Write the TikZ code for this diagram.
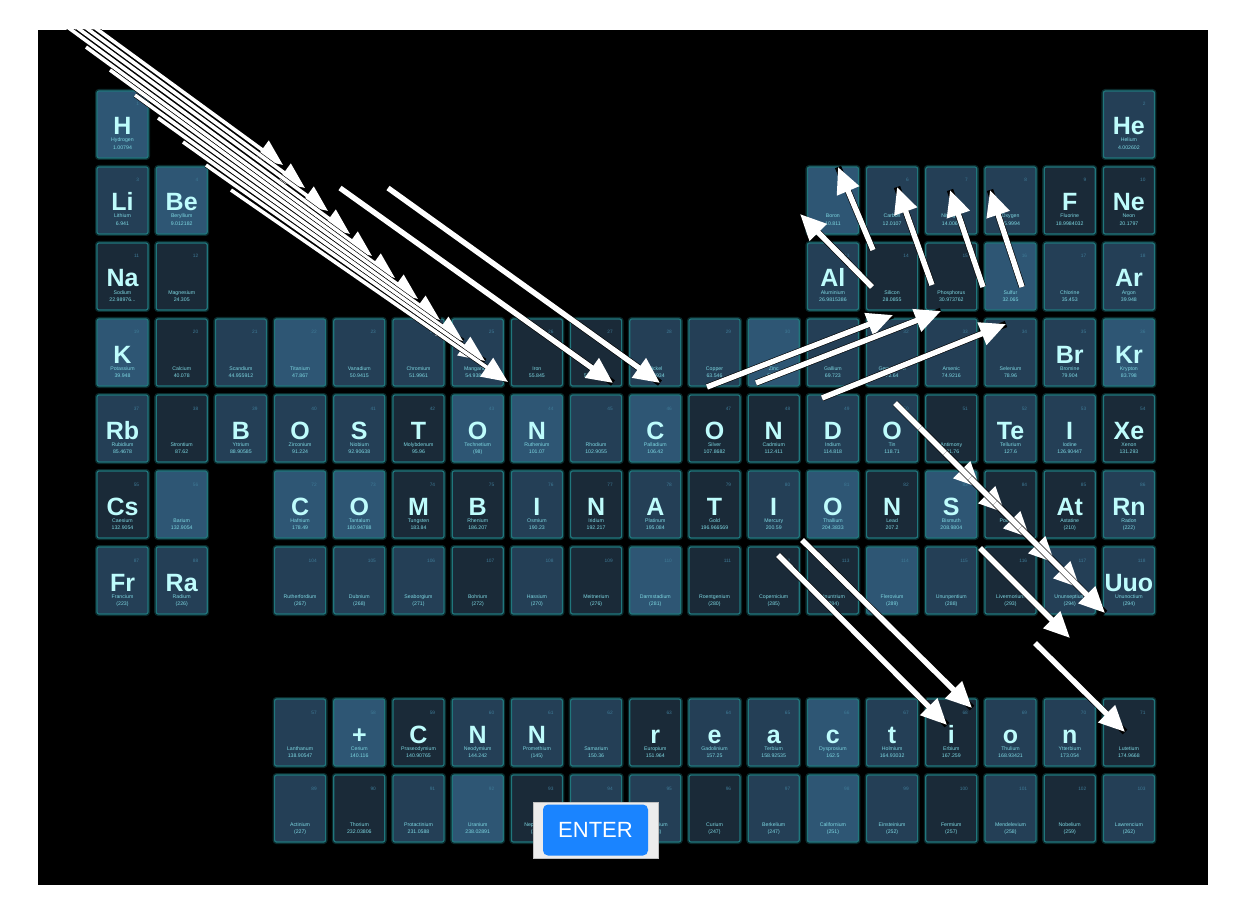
\documentclass[tikz,border=0pt]{standalone}
\usepackage{fontspec}
\setmainfont{Liberation Sans}
\usetikzlibrary{arrows.meta}

\definecolor{tileA}{RGB}{46,86,116}
\definecolor{tileB}{RGB}{36,63,86}
\definecolor{tileC}{RGB}{26,42,56}
\definecolor{tileglow}{RGB}{32,118,124}
\definecolor{symcol}{RGB}{190,252,252}
\definecolor{txtcol}{RGB}{125,215,225}
\definecolor{numcol}{RGB}{62,122,150}
\definecolor{btnblue}{RGB}{26,132,255}
\definecolor{btngray}{RGB}{236,236,236}

% one element tile: col, row, shade, number, symbol, name, mass
\newcommand{\elem}[7]{%
  \pgfmathsetmacro{\cx}{122.5+(#1-1)*59.2}%
  \pgfmathsetmacro{\cy}{124.5+(#2-1)*76}%
  \node[tile, fill=#3] (el#4) at (\cx,\cy) {};
  \node[elnum] at (\cx+17,\cy-18.5) {#4};
  \node[elsym] at (\cx,\cy+10.5) {#5};
  \node[eltext] at (\cx,\cy+17.5) {#6};
  \node[eltext] at (\cx,\cy+25) {#7};
}

\begin{document}
\begin{tikzpicture}[
    x=0.5pt, y=-0.5pt,
    tile/.style={draw=tileglow, line width=0.6pt, rounded corners=1pt,
      minimum width=25.5pt, minimum height=33.5pt, inner sep=0pt,
      preaction={draw=tileglow, opacity=0.35, line width=2pt}},
    elnum/.style={anchor=base east, inner sep=0pt, text=numcol, font=\fontsize{2.4}{3}\selectfont},
    elsym/.style={anchor=base, inner sep=0pt, text=symcol, font=\fontsize{12.5}{14}\selectfont\bfseries},
    eltext/.style={anchor=base, inner sep=0pt, text=txtcol, font=\fontsize{2.6}{3}\selectfont},
    arrow/.style={white, line width=2.7pt, -{Triangle[length=13pt, width=11.5pt]},
      preaction={draw=black, line width=3.3pt, -}},
    bundle/.style={white, line width=1.8pt, -{Triangle[length=13pt, width=11pt]},
      preaction={draw=black, line width=2.4pt, -}},
    btnframe/.style={draw=black!25, fill=btngray, minimum width=62.5pt, minimum height=28pt},
    btn/.style={fill=btnblue, rounded corners=2.5pt, minimum width=52.5pt, minimum height=25.5pt,
      text=white, font=\fontsize{11}{13}\selectfont}
]
\useasboundingbox (0,0) rectangle (1240,914);
\fill[white] (0,0) rectangle (1240,914);
\fill[black] (38,30) rectangle (1208,885);

% main table
\foreach \c/\sh/\n/\sy/\nm/\ms in {1/tileA/1/H/Hydrogen/1.00794, 18/tileB/2/He/Helium/4.002602}
  {\elem{\c}{1}{\sh}{\n}{\sy}{\nm}{\ms}}
\foreach \c/\sh/\n/\sy/\nm/\ms in {1/tileB/3/Li/Lithium/6.941, 2/tileA/4/Be/Beryllium/9.012182,
    13/tileA/5/{}/Boron/10.811, 14/tileB/6/{}/Carbon/12.0107, 15/tileB/7/{}/Nitrogen/14.0067,
    16/tileB/8/{}/Oxygen/15.9994, 17/tileC/9/F/Fluorine/18.9984032, 18/tileC/10/Ne/Neon/20.1797}
  {\elem{\c}{2}{\sh}{\n}{\sy}{\nm}{\ms}}
\elem{1}{3}{tileC}{11}{Na}{Sodium}{22.98976...}
\foreach \c/\sh/\n/\sy/\nm/\ms in {2/tileC/12/{}/Magnesium/24.305,
    13/tileB/13/Al/Aluminium/26.9815386, 14/tileC/14/{}/Silicon/28.0855, 15/tileC/15/{}/Phosphorus/30.973762,
    16/tileA/16/{}/Sulfur/32.065, 17/tileB/17/{}/Chlorine/35.453, 18/tileB/18/Ar/Argon/39.948}
  {\elem{\c}{3}{\sh}{\n}{\sy}{\nm}{\ms}}
\foreach \c/\sh/\n/\sy/\nm/\ms in {1/tileA/19/K/Potassium/39.948, 2/tileC/20/{}/Calcium/40.078,
    3/tileB/21/{}/Scandium/44.955912, 4/tileA/22/{}/Titanium/47.867, 5/tileB/23/{}/Vanadium/50.9415,
    6/tileB/24/{}/Chromium/51.9961, 7/tileB/25/{}/Manganese/54.938045, 8/tileC/26/{}/Iron/55.845,
    9/tileC/27/{}/Cobalt/58.933195, 10/tileB/28/{}/Nickel/58.6934, 11/tileB/29/{}/Copper/63.546,
    12/tileA/30/{}/Zinc/65.38, 13/tileB/31/{}/Gallium/69.723, 14/tileB/32/{}/Germanium/72.64,
    15/tileB/33/{}/Arsenic/74.9216, 16/tileB/34/{}/Selenium/78.96, 17/tileB/35/Br/Bromine/79.904,
    18/tileA/36/Kr/Krypton/83.798}
  {\elem{\c}{4}{\sh}{\n}{\sy}{\nm}{\ms}}
\foreach \c/\sh/\n/\sy/\nm/\ms in {1/tileB/37/Rb/Rubidium/85.4678, 2/tileC/38/{}/Strontium/87.62,
    3/tileB/39/B/Yttrium/88.90585, 4/tileB/40/O/Zirconium/91.224, 5/tileB/41/S/Niobium/92.90638,
    6/tileC/42/T/Molybdenum/95.96, 7/tileA/43/O/Technetium/(98), 8/tileA/44/N/Ruthenium/101.07,
    9/tileB/45/{}/Rhodium/102.9055, 10/tileA/46/C/Palladium/106.42, 11/tileC/47/O/Silver/107.8682,
    12/tileC/48/N/Cadmium/112.411, 13/tileB/49/D/Indium/114.818, 14/tileB/50/O/Tin/118.71,
    15/tileC/51/{}/Antimony/121.76, 16/tileB/52/Te/Tellurium/127.6, 17/tileB/53/I/Iodine/126.90447,
    18/tileC/54/Xe/Xenon/131.293}
  {\elem{\c}{5}{\sh}{\n}{\sy}{\nm}{\ms}}
\foreach \c/\sh/\n/\sy/\nm/\ms in {1/tileC/55/Cs/Caesium/132.9054, 2/tileA/56/{}/Barium/132.9054,
    4/tileA/72/C/Hafnium/178.49, 5/tileA/73/O/Tantalum/180.94788, 6/tileC/74/M/Tungsten/183.84,
    7/tileC/75/B/Rhenium/186.207, 8/tileB/76/I/Osmium/190.23, 9/tileC/77/N/Iridium/192.217,
    10/tileB/78/A/Platinum/195.084, 11/tileC/79/T/Gold/196.966569, 12/tileB/80/I/Mercury/200.59,
    13/tileA/81/O/Thallium/204.3833, 14/tileC/82/N/Lead/207.2, 15/tileA/83/S/Bismuth/208.9804,
    16/tileC/84/{}/Polonium/(209), 17/tileC/85/At/Astatine/(210), 18/tileB/86/Rn/Radon/(222)}
  {\elem{\c}{6}{\sh}{\n}{\sy}{\nm}{\ms}}
\foreach \c/\sh/\n/\sy/\nm/\ms in {1/tileB/87/Fr/Francium/(223), 2/tileB/88/Ra/Radium/(226),
    4/tileB/104/{}/Rutherfordium/(267), 5/tileB/105/{}/Dubnium/(268), 6/tileB/106/{}/Seaborgium/(271),
    7/tileC/107/{}/Bohrium/(272), 8/tileB/108/{}/Hassium/(270), 9/tileC/109/{}/Meitnerium/(276),
    10/tileA/110/{}/Darmstadium/(281), 11/tileC/111/{}/Roentgenium/(280), 12/tileC/112/{}/Copernicium/(285),
    13/tileC/113/{}/Ununtrium/(284), 14/tileA/114/{}/Flerovium/(289), 15/tileB/115/{}/Ununpentium/(288),
    16/tileC/116/{}/Livermorium/(293), 17/tileB/117/{}/Ununseptium/(294), 18/tileB/118/Uuo/Ununoctium/(294)}
  {\elem{\c}{7}{\sh}{\n}{\sy}{\nm}{\ms}}

% lanthanides and actinides
\foreach \c/\sh/\n/\sy/\nm/\ms in {4/tileB/57/{}/Lanthanum/138.90547, 5/tileA/58/+/Cerium/140.116,
    6/tileC/59/C/Praseodymium/140.90765, 7/tileB/60/N/Neodymium/144.242, 8/tileB/61/N/Promethium/(145),
    9/tileB/62/{}/Samarium/150.36, 10/tileC/63/r/Europium/151.964, 11/tileB/64/e/Gadolinium/157.25,
    12/tileB/65/a/Terbium/158.92535, 13/tileA/66/c/Dysprosium/162.5, 14/tileB/67/t/Holmium/164.93032,
    15/tileC/68/i/Erbium/167.259, 16/tileB/69/o/Thulium/168.93421, 17/tileB/70/n/Ytterbium/173.054,
    18/tileC/71/{}/Lutetium/174.9668}
  {\elem{\c}{9}{\sh}{\n}{\sy}{\nm}{\ms}}
\foreach \c/\sh/\n/\nm/\ms in {4/tileB/89/Actinium/(227), 5/tileC/90/Thorium/232.03806,
    6/tileB/91/Protactinium/231.0588, 7/tileA/92/Uranium/238.02891, 8/tileC/93/Neptunium/(237),
    9/tileB/94/Plutonium/(244), 10/tileB/95/Americium/(243), 11/tileC/96/Curium/(247),
    12/tileB/97/Berkelium/(247), 13/tileA/98/Californium/(251), 14/tileB/99/Einsteinium/(252),
    15/tileC/100/Fermium/(257), 16/tileB/101/Mendelevium/(258), 17/tileC/102/Nobelium/(259),
    18/tileB/103/Lawrencium/(262)}
  {\elem{\c}{10}{\sh}{\n}{}{\nm}{\ms}}

% arrows
\begin{scope}
\clip (38,30) rectangle (1208,885);
\foreach \sx/\sy/\ex/\ey [count=\i] in {-10/-49/283/165, 14/-25/305/188, 38/-1/328/211,
    62/23/350/234, 86/47/372/256, 110/70/395/278, 135/95/418/299, 158/118/440/320,
    183/142/463/341, 206/165/485/361, 231/190/508/382}
  {\coordinate (b\i s) at (\sx,\sy);
   \coordinate (b\i e) at (\ex,\ey);
   \draw[bundle] (b\i s) -- (b\i e);}
\foreach \sx/\sy/\ex/\ey [count=\i] in {340/188/613/383, 388/188/660/383,
    873/250/838/167, 872/287/800/214, 932/285/897/187, 983/287/950/190, 1022/287/990/190,
    707/387/893/315, 756/383/941/311, 822/398/1006/324,
    895/403/980/488, 920/428/1005/513, 945/453/1030/538, 970/478/1055/563, 995/503/1080/588,
    1020/528/1105/613, 980/548/1070/638, 1035/643/1125/732, 802/540/972/708, 778/555/947/725}
  {\coordinate (a\i s) at (\sx,\sy);
   \coordinate (a\i e) at (\ex,\ey);
   \draw[arrow] (a\i s) -- (a\i e);}
\end{scope}

% enter button
\node[btnframe] (enterbox) at (595.5,830) {};
\node[btn] (enter) at (595.5,830) {ENTER};
\end{tikzpicture}
\end{document}
